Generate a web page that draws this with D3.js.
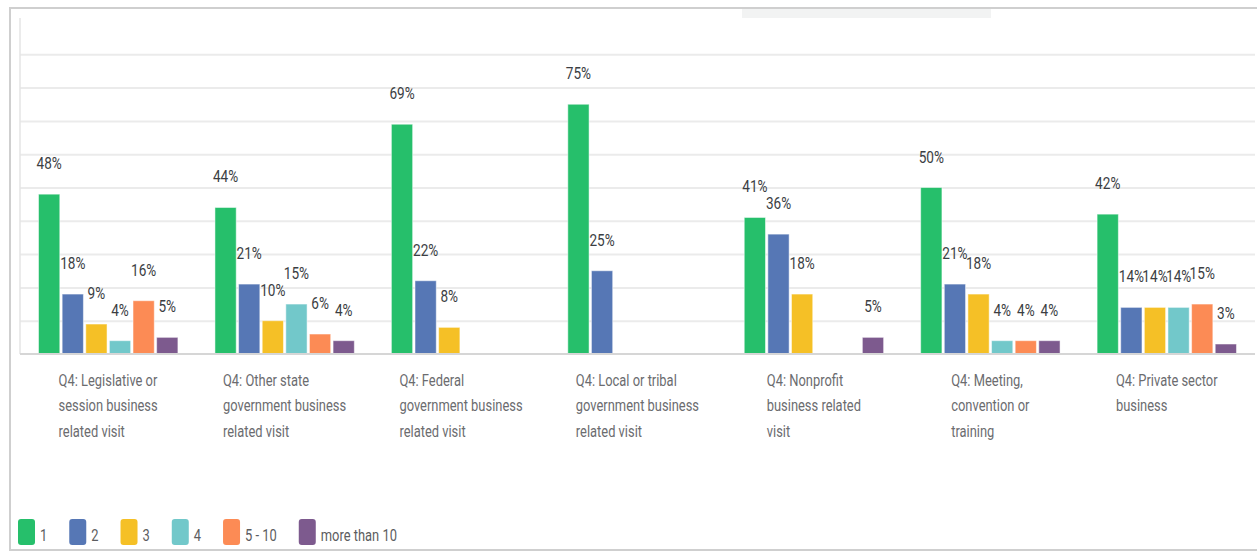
<!DOCTYPE html>
<html>
<head>
<meta charset="utf-8">
<style>
  body { margin: 0; background: #fff; }
  #chart-area svg { display: block; }
  text { font-family: Roboto, "Noto Sans", sans-serif; }
</style>
</head>
<body>
<div id="chart-area"></div>

<script src="https://cdn.jsdelivr.net/npm/d3@7/dist/d3.min.js"></script>
<script>
    // categories, one entry per line of the wrapped axis label
    const categories = [
        ["Q4: Legislative or", "session business", "related visit"],
        ["Q4: Other state", "government business", "related visit"],
        ["Q4: Federal", "government business", "related visit"],
        ["Q4: Local or tribal", "government business", "related visit"],
        ["Q4: Nonprofit", "business related", "visit"],
        ["Q4: Meeting,", "convention or", "training"],
        ["Q4: Private sector", "business"]
    ];
    const seriesNames = ["1", "2", "3", "4", "5 - 10", "more than 10"];

    // percentages per series (null = no bar)
    const one       = [48, 44, 69, 75, 41, 50, 42];
    const two       = [18, 21, 22, 25, 36, 21, 14];
    const three     = [9, 10, 8, null, 18, 18, 14];
    const four      = [4, 15, null, null, null, 4, 14];
    const fiveToTen = [16, 6, null, null, null, 4, 15];
    const moreThan10 = [5, 4, null, null, 5, 4, 3];

    const yTicks = [10, 20, 30, 40, 50, 60, 70, 80, 90];

    const colors = ["#26bf6b", "#5677b5", "#f5c026", "#72c8ca", "#fc8b55", "#7d5a8e"];

    const seriesValues = [one, two, three, four, fiveToTen, moreThan10];

    const width = 1257;
    const height = 553;
    const plotLeft = 20, plotRight = 1255, plotTop = 21, baseline = 354;
    // reference font is a narrow face, so squeeze text horizontally
    const squeezeValue = 0.8;
    const squeezeLabel = 0.76;

    const svg = d3.select("#chart-area")
        .append("svg")
            .attr("width", width)
            .attr("height", height);

    // outer frame
    svg.append("rect").attr("x", 742).attr("y", 9).attr("width", 249).attr("height", 9)
        .attr("fill", "#f2f3f3");
    svg.append("path")
        .attr("d", `M${width},8 H10 V550 H${width}`)
        .attr("fill", "none")
        .attr("stroke", "#cfcfcf")
        .attr("stroke-width", 2);

    const x0 = d3.scaleBand()
        .domain(d3.range(categories.length))
        .range([plotLeft, plotRight])
        .paddingInner(0.21)
        .paddingOuter(0.105);

    const x1 = d3.scaleBand()
        .domain(d3.range(seriesNames.length))
        .range([0, x0.bandwidth()])
        .paddingInner(0.1);

    const y = d3.scaleLinear()
        .domain([0, 100])
        .range([baseline, plotTop]);

    // gridlines
    const grid = svg.append("g")
        .attr("transform", `translate(${plotLeft},0)`)
        .call(d3.axisLeft(y).tickValues(yTicks).tickSize(-(plotRight - plotLeft)).tickFormat(""));
    grid.select(".domain").remove();
    grid.selectAll("line").attr("stroke", "#ebebeb").attr("stroke-width", 2);

    svg.append("line")
        .attr("x1", plotLeft).attr("x2", plotLeft)
        .attr("y1", 18).attr("y2", baseline)
        .attr("stroke", "#e4e4e4").attr("stroke-width", 1.5);

    // bars
    const rows = categories.map((c, i) => seriesValues.map((s, j) => ({ cat: i, ser: j, v: s[i] })));

    const groups = svg.append("g").selectAll("g")
        .data(rows)
        .join("g")
            .attr("transform", (d, i) => `translate(${x0(i)},0)`);

    const items = groups.selectAll("g")
        .data(d => d.filter(e => e.v != null))
        .join("g");

    items.append("rect")
        .attr("x", d => x1(d.ser))
        .attr("y", d => y(d.v))
        .attr("width", x1.bandwidth())
        .attr("height", d => y(0) - y(d.v))
        .attr("fill", d => colors[d.ser])
        .attr("stroke", "#ffffff")
        .attr("stroke-opacity", 0.5);

    items.append("text")
        .attr("transform", d => `translate(${x1(d.ser) + x1.bandwidth() / 2},${y(d.v) - 25}) scale(${squeezeValue},1)`)
        .attr("text-anchor", "middle")
        .attr("font-size", 17)
        .attr("fill", "#3b3e43")
        .text(d => d.v + "%");

    // baseline
    svg.append("line")
        .attr("x1", plotLeft).attr("x2", plotRight)
        .attr("y1", y(0)).attr("y2", y(0))
        .attr("stroke", "#d6d6d6").attr("stroke-width", 2);

    // category labels: left aligned block, centred under its group
    categories.forEach((lines, i) => {
        const g = svg.append("g");
        const t = g.selectAll("text")
            .data(lines)
            .join("text")
                .attr("y", (d, k) => 386 + k * 25.5)
                .attr("font-size", 17)
                .attr("fill", "#6b6c6f")
                .text(d => d);
        const w = d3.max(t.nodes(), n => n.getComputedTextLength()) * squeezeLabel;
        const cx = x0(i) + x0.bandwidth() / 2;
        g.attr("transform", `translate(${cx - w / 2},0) scale(${squeezeLabel},1)`);
    });

    // legend
    let lx = 18;
    seriesNames.forEach((name, i) => {
        svg.append("rect")
            .attr("x", lx).attr("y", 519)
            .attr("width", 17).attr("height", 26)
            .attr("rx", 3)
            .attr("fill", colors[i]);
        const t = svg.append("text")
            .attr("transform", `translate(${lx + 22},541) scale(${squeezeLabel},1)`)
            .attr("font-size", 17)
            .attr("fill", "#5c5d60")
            .text(name);
        lx += 22 + t.node().getComputedTextLength() * squeezeLabel + 22;
    });
</script>
</body>
</html>
